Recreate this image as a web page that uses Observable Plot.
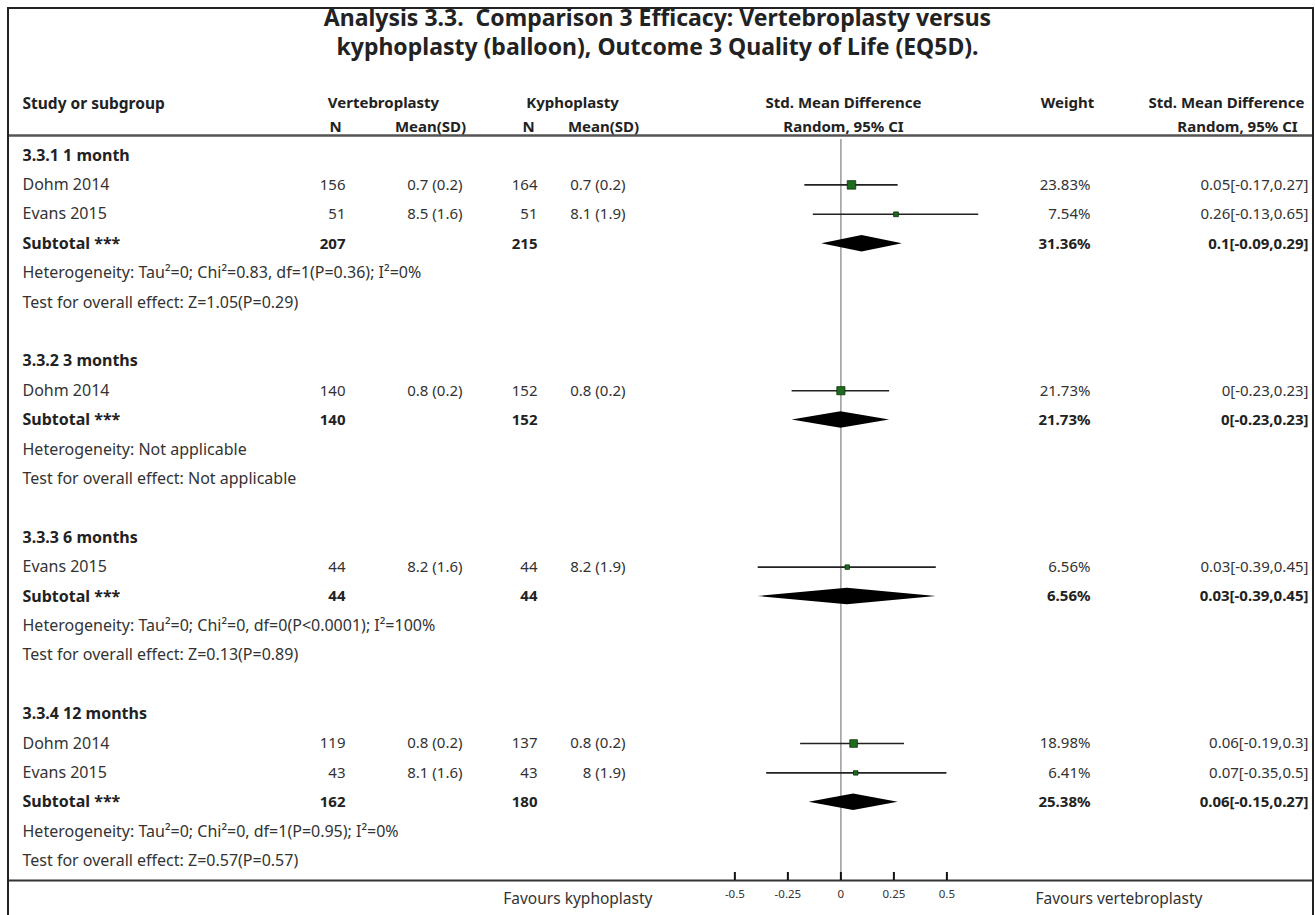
<!DOCTYPE html>
<html>
<head>
<meta charset="utf-8">
<script src="https://cdn.jsdelivr.net/npm/d3@7"></script>
<script src="https://cdn.jsdelivr.net/npm/@observablehq/plot@0.6"></script>
<style>
  html, body { margin: 0; padding: 0; background: #fff; }
  #page { position: relative; width: 1315px; height: 915px; overflow: hidden; font-family: "Noto Sans", sans-serif; }
  #border { position: absolute; left: 7px; top: 7px; width: 1303px; height: 930px; border: 2px solid #222; border-bottom: none; pointer-events: none; }
  #title { position: absolute; left: 0; top: 3px; width: 1315px; text-align: center; font-weight: 700; font-size: 23px; line-height: 29px; color: #222; white-space: pre; }
  #chart { position: absolute; left: 0; top: 72px; }
</style>
</head>
<body>
<div id="page">
  <div id="title"></div>
  <div id="chart"></div>
  <div id="border"></div>
</div>
<script>
// ---- data ----
const titleLines = ["Analysis 3.3.  Comparison 3 Efficacy: Vertebroplasty versus", "kyphoplasty (balloon), Outcome 3 Quality of Life (EQ5D)."];
const groups = ["3.3.1 1 month", "3.3.2 3 months", "3.3.3 6 months", "3.3.4 12 months"];
const studyGroup = [0, 0, 1, 2, 3, 3];
const studyName = ["Dohm 2014", "Evans 2015", "Dohm 2014", "Evans 2015", "Dohm 2014", "Evans 2015"];
const vertN = [156, 51, 140, 44, 119, 43];
const vertMean = ["0.7 (0.2)", "8.5 (1.6)", "0.8 (0.2)", "8.2 (1.6)", "0.8 (0.2)", "8.1 (1.6)"];
const kyphN = [164, 51, 152, 44, 137, 43];
const kyphMean = ["0.7 (0.2)", "8.1 (1.9)", "0.8 (0.2)", "8.2 (1.9)", "0.8 (0.2)", "8 (1.9)"];
const smd = [0.05, 0.26, 0, 0.03, 0.06, 0.07];
const smdLo = [-0.17, -0.13, -0.23, -0.39, -0.19, -0.35];
const smdHi = [0.27, 0.65, 0.23, 0.45, 0.3, 0.5];
const weight = [23.83, 7.54, 21.73, 6.56, 18.98, 6.41];
const ciText = ["0.05[-0.17,0.27]", "0.26[-0.13,0.65]", "0[-0.23,0.23]", "0.03[-0.39,0.45]", "0.06[-0.19,0.3]", "0.07[-0.35,0.5]"];
const subVertN = [207, 140, 44, 162];
const subKyphN = [215, 152, 44, 180];
const subSmd = [0.1, 0, 0.03, 0.06];
const subLo = [-0.09, -0.23, -0.39, -0.15];
const subHi = [0.29, 0.23, 0.45, 0.27];
const subWeight = ["31.36%", "21.73%", "6.56%", "25.38%"];
const subCiText = ["0.1[-0.09,0.29]", "0[-0.23,0.23]", "0.03[-0.39,0.45]", "0.06[-0.15,0.27]"];
const hetText = [
  "Heterogeneity: Tau\u00b2=0; Chi\u00b2=0.83, df=1(P=0.36); I\u00b2=0%",
  "Heterogeneity: Not applicable",
  "Heterogeneity: Tau\u00b2=0; Chi\u00b2=0, df=0(P<0.0001); I\u00b2=100%",
  "Heterogeneity: Tau\u00b2=0; Chi\u00b2=0, df=1(P=0.95); I\u00b2=0%"
];
const testText = [
  "Test for overall effect: Z=1.05(P=0.29)",
  "Test for overall effect: Not applicable",
  "Test for overall effect: Z=0.13(P=0.89)",
  "Test for overall effect: Z=0.57(P=0.57)"
];
const axisTicks = [-0.5, -0.25, 0, 0.25, 0.5];
const axisTickLabels = ["-0.5", "-0.25", "0", "0.25", "0.5"];
const axisExtent = [-0.78, 0.8];
const favoursLeft = "Favours kyphoplasty";
const favoursRight = "Favours vertebroplasty";
const header1 = ["Study or subgroup", "Vertebroplasty", "Kyphoplasty", "Std. Mean Difference", "Weight", "Std. Mean Difference"];
const header2 = ["N", "Mean(SD)", "N", "Mean(SD)", "Random, 95% CI", "Random, 95% CI"];

document.getElementById("title").textContent = titleLines.join("\n");

// ---- build table rows ----
const studies = studyName.map((name, k) => ({
  name, g: studyGroup[k], vN: vertN[k], vM: vertMean[k], kN: kyphN[k], kM: kyphMean[k],
  est: smd[k], lo: smdLo[k], hi: smdHi[k], w: weight[k], wText: weight[k].toFixed(2) + "%", ci: ciText[k]
}));
const boldRows = [], plainRows = [], studyRows = [], subRows = [];
let idx = 0;
groups.forEach((g, gi) => {
  boldRows.push({i: idx++, label: g});
  studies.filter(s => s.g === gi).forEach(s => { const r = {...s, i: idx++}; studyRows.push(r); plainRows.push({i: r.i, label: s.name}); });
  const sr = {i: idx++, vN: subVertN[gi], kN: subKyphN[gi], est: subSmd[gi], lo: subLo[gi], hi: subHi[gi], w: subWeight[gi], ci: subCiText[gi], g: gi};
  subRows.push(sr);
  boldRows.push({i: sr.i, label: "Subtotal ***"});
  plainRows.push({i: idx++, label: hetText[gi]});
  plainRows.push({i: idx++, label: testText[gi]});
  idx++; // blank row
});
const diamondHalf = 0.28;
const diamondPts = subRows.flatMap(s => [
  {g: s.g, y: s.i - diamondHalf, x1: s.est, x2: s.est},
  {g: s.g, y: s.i, x1: s.lo, x2: s.hi},
  {g: s.g, y: s.i + diamondHalf, x1: s.est, x2: s.est}
]);

// ---- layout (pixels) ----
const W = 1315, H = 843, mL = 8, mR = 3, mT = 63, mB = 35;
const frameH = H - mT - mB;
const colStudy = 22, colVN = 345, colVM = 462, colKN = 537, colKM = 625, colW = 1090, colCI = 1308;
const hdrCenters1 = [null, 383, 572, 843, 1067, 1226];
const hdrCenters2 = [335, 430, 528, 603, 843, 1237];
const FS = 15, FS_LABEL = 16, FS_HDR = 15;
const HDR1_Y = 25, HDR2_Y = 49;
const txt = (data, opts) => Plot.text(data, {frameAnchor: "left", fontSize: FS, ...opts, dx: opts.dx - mL});
const hdrRow = (labels, centers, dyPx) => labels.map((t, k) => ({t, c: centers[k], dy: dyPx})).filter(d => d.c !== null);

const chart = Plot.plot({
  width: W, height: H,
  marginLeft: mL, marginRight: mR, marginTop: mT, marginBottom: mB,
  style: {fontFamily: "Noto Sans", fontSize: FS + "px", color: "#333", background: "transparent"},
  x: {domain: axisExtent, range: [675, 1010], axis: null},
  y: {type: "linear", domain: [0, 24], range: [83, 788.6], axis: null},
  r: {type: "sqrt", domain: [0, 23.83], range: [0, 4.8]},
  marks: [
    // header
    Plot.frame({anchor: "top", stroke: "#555", strokeWidth: 2.5}),
    Plot.text([header1[0]], {frameAnchor: "top-left", dx: colStudy - mL, dy: HDR1_Y - mT, textAnchor: "start", fontWeight: 700, fontSize: 15.5, fill: "#222"}),
    ...hdrRow(header1, hdrCenters1, HDR1_Y).map(d => Plot.text([d.t], {frameAnchor: "top-left", dx: d.c - mL, dy: d.dy - mT, textAnchor: "middle", fontWeight: 700, fontSize: FS_HDR, fill: "#222"})),
    ...hdrRow(header2, hdrCenters2, HDR2_Y).map(d => Plot.text([d.t], {frameAnchor: "top-left", dx: d.c - mL, dy: d.dy - mT, textAnchor: "middle", fontWeight: 700, fontSize: FS_HDR, fill: "#222"})),
    // zero line
    Plot.ruleX([0], {stroke: "#9a9a9a", strokeWidth: 1.5, insetTop: 4}),
    // left text column
    txt(boldRows, {y: "i", text: "label", dx: colStudy, textAnchor: "start", fontWeight: 700, fontSize: FS_LABEL, fill: "#222"}),
    txt(plainRows, {y: "i", text: "label", dx: colStudy, textAnchor: "start", fontSize: FS_LABEL, fill: "#333"}),
    // study numbers
    txt(studyRows, {y: "i", text: "vN", dx: colVN, textAnchor: "end"}),
    txt(studyRows, {y: "i", text: "vM", dx: colVM, textAnchor: "end"}),
    txt(studyRows, {y: "i", text: "kN", dx: colKN, textAnchor: "end"}),
    txt(studyRows, {y: "i", text: "kM", dx: colKM, textAnchor: "end"}),
    txt(studyRows, {y: "i", text: "wText", dx: colW, textAnchor: "end"}),
    txt(studyRows, {y: "i", text: "ci", dx: colCI, textAnchor: "end"}),
    // subtotal numbers
    txt(subRows, {y: "i", text: "vN", dx: colVN, textAnchor: "end", fontWeight: 700, fill: "#222"}),
    txt(subRows, {y: "i", text: "kN", dx: colKN, textAnchor: "end", fontWeight: 700, fill: "#222"}),
    txt(subRows, {y: "i", text: "w", dx: colW, textAnchor: "end", fontWeight: 700, fill: "#222"}),
    txt(subRows, {y: "i", text: "ci", dx: colCI, textAnchor: "end", fontWeight: 700, fill: "#222"}),
    // forest
    Plot.ruleY(studyRows, {y: "i", x1: "lo", x2: "hi", stroke: "#222", strokeWidth: 1.6}),
    Plot.dot(studyRows, {x: "est", y: "i", r: "w", symbol: "square", fill: "#1f6b1f", stroke: "#0b330b", strokeWidth: 0.8}),
    Plot.areaX(diamondPts, {y: "y", x1: "x1", x2: "x2", z: "g", fill: "#000", curve: "linear"}),
    // axis
    Plot.frame({anchor: "bottom", stroke: "#333", strokeWidth: 2}),
    Plot.ruleX(axisTicks, {x: d => d, insetTop: frameH - 8, stroke: "#111", strokeWidth: 2}),
    Plot.text(axisTicks, {x: d => d, text: (d, k) => axisTickLabels[k], frameAnchor: "bottom", dy: 17, fontSize: 11.5, fill: "#333"}),
    Plot.text([favoursLeft], {frameAnchor: "bottom-left", dx: 652 - mL, dy: 23, textAnchor: "end", fontSize: 15.5, fill: "#333"}),
    Plot.text([favoursRight], {frameAnchor: "bottom-left", dx: 1035 - mL, dy: 23, textAnchor: "start", fontSize: 15.5, fill: "#333"})
  ]
});
document.getElementById("chart").appendChild(chart);
</script>
</body>
</html>
